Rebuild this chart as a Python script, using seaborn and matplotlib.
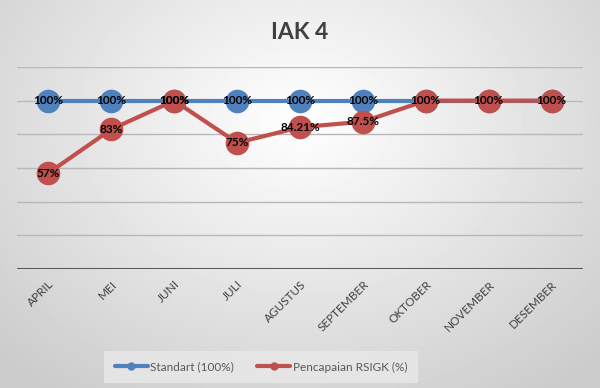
import numpy as np
import pandas as pd
import seaborn as sns
from matplotlib import pyplot as plt
from matplotlib.lines import Line2D

bulan = ['APRIL', 'MEI', 'JUNI', 'JULI', 'AGUSTUS', 'SEPTEMBER', 'OKTOBER', 'NOVEMBER', 'DESEMBER']
standart = [100, 100, 100, 100, 100, 100, 100, 100, 100]
pencapaian = [57, 83, 100, 75, 84.21, 87.5, 100, 100, 100]
label_standart = ['100%'] * 6 + [''] * 3
label_pencapaian = ['57%', '83%', '100%', '75%', '84.21%', '87.5%', '100%', '100%', '100%']

sns.set_theme(style='white')
plt.rcParams['font.family'] = ['Lato', 'DejaVu Sans']

biru = '#4f81bd'
merah = '#c0504d'
abu = '#595959'

fig = plt.figure(figsize=(6, 3.88), dpi=100)

# background gradient
bg = fig.add_axes([0, 0, 1, 1], zorder=-10)
yy, xx = np.mgrid[0:388, 0:600]
r = np.sqrt(((xx - 300) / 420.0) ** 2 + ((yy - 120) / 330.0) ** 2)
shade = np.clip(1.0 - 0.2 * r, 0.8, 1.0)
bg.imshow(shade, cmap='gray', vmin=0, vmax=1, aspect='auto', extent=[0, 1, 0, 1])
bg.axis('off')

ax = fig.add_axes([17 / 600, 1 - 269 / 388, 566 / 600, 202 / 388])
ax.set_facecolor('none')

df = pd.DataFrame({'bulan': bulan, 'standart': standart, 'pencapaian': pencapaian})
df['x'] = range(len(df))

sns.lineplot(data=df, x='x', y='standart', ax=ax, color=biru, lw=3, marker='o',
             markersize=17, markeredgewidth=0, zorder=3)
sns.lineplot(data=df, x='x', y='pencapaian', ax=ax, color=merah, lw=3, marker='o',
             markersize=17, markeredgewidth=0, zorder=4)

for i, t in enumerate(label_standart):
    if t:
        ax.text(i, standart[i], t, ha='center', va='center', fontsize=8.5,
                fontweight='bold', color='black', zorder=5)
for i, t in enumerate(label_pencapaian):
    ax.text(i, pencapaian[i], t, ha='center', va='center', fontsize=8.5,
            fontweight='bold', color='black', zorder=6)

ax.set_xlim(-0.5, len(bulan) - 0.5)
ax.set_ylim(0, 120)
ax.set_yticks(range(0, 121, 20))
ax.yaxis.grid(True, color='#b8b8b8', lw=1)
ax.set_yticklabels([])
ax.tick_params(axis='y', length=0)
ax.axhline(0, color=abu, lw=2.2, zorder=2)
for s in ax.spines.values():
    s.set_visible(False)

ax.set_xticks(range(len(bulan)))
ax.set_xticklabels(bulan, rotation=45, ha='right', rotation_mode='anchor',
                   fontsize=8.5)
for lbl in ax.get_xticklabels():
    lbl.set_color('#404040')
ax.tick_params(axis='x', length=0, pad=7)
ax.set_xlabel('')
ax.set_ylabel('')

fig.text(0.5, 0.917, 'IAK 4', ha='center', va='center', fontsize=16.5,
         fontweight='bold', color='#404040')

handles = [Line2D([], [], color=biru, lw=3, marker='o', markersize=5),
           Line2D([], [], color=merah, lw=3, marker='o', markersize=5)]
leg = fig.legend(handles, ['Standart (100%)', 'Pencapaian RSIGK (%)'], loc='center',
                 bbox_to_anchor=(0.435, 0.054), ncol=2, frameon=True, fontsize=8.5,
                 handlelength=2.8, handletextpad=0.2, columnspacing=2.0,
                 fancybox=False, borderpad=0.9)
leg.get_frame().set_facecolor('#e9e9e9')
leg.get_frame().set_edgecolor('none')
for t in leg.get_texts():
    t.set_color(abu)

fig.savefig('out.png', dpi=100)
